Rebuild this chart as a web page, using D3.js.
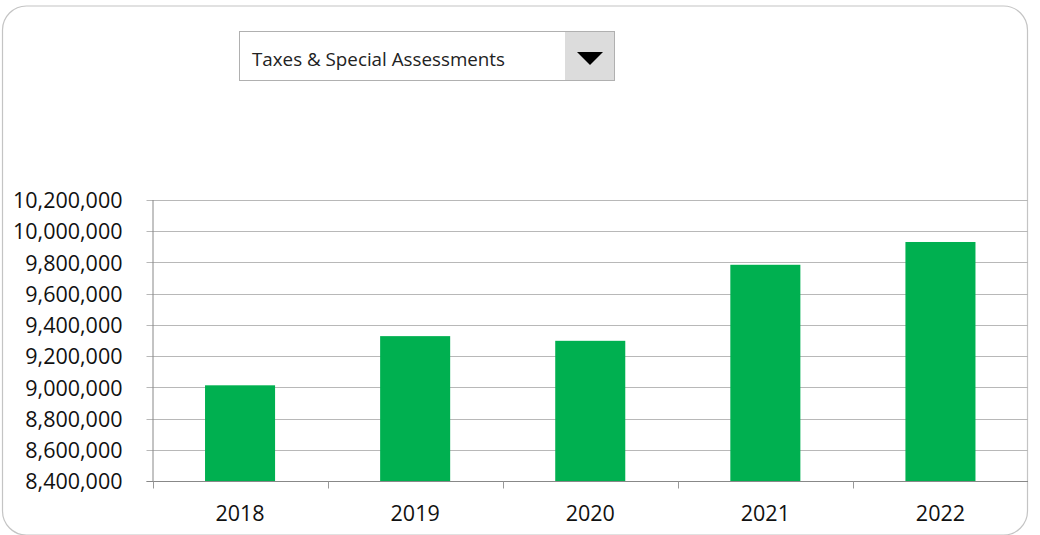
<!DOCTYPE html>
<html>
<head>
<meta charset="utf-8">
<script src="https://cdn.jsdelivr.net/npm/d3@7"></script>
<style>
html,body{margin:0;padding:0;background:#fff;}
svg{display:block;}
</style>
</head>
<body>
<svg id="chart" width="1040" height="535"></svg>
<script>
const years = ["2018","2019","2020","2021","2022"];
const values = [9013000, 9328000, 9298000, 9785000, 9931000];
const yTicks = [8400000, 8600000, 8800000, 9000000, 9200000, 9400000, 9600000, 9800000, 10000000, 10200000];
const selectedCategory = "Taxes & Special Assessments";

const svg = d3.select("#chart");
const plot = {left: 152.5, right: 1028, top: 200, bottom: 481};

// outer rounded frame
svg.append("rect")
  .attr("x", 2.5).attr("y", 6).attr("width", 1025).attr("height", 529)
  .attr("rx", 24).attr("ry", 24)
  .attr("fill", "#fff").attr("stroke", "#c4c4c4").attr("stroke-width", 1.2);

const x = d3.scaleBand().domain(years).range([plot.left, plot.right]).paddingInner(0.6).paddingOuter(0.3);
const y = d3.scaleLinear().domain([8400000, 10200000]).range([plot.bottom, plot.top]);

const fmt = d3.format(",");
const font = "'Open Sans', 'Noto Sans', sans-serif";

// gridlines
svg.append("g")
  .selectAll("line").data(yTicks).join("line")
  .attr("x1", plot.left - 6).attr("x2", plot.right)
  .attr("y1", d => Math.round(y(d)) + 0.5).attr("y2", d => Math.round(y(d)) + 0.5)
  .attr("stroke", "#b8b8b8").attr("stroke-width", 1);

// bars
svg.append("g")
  .selectAll("rect").data(years).join("rect")
  .attr("x", d => x(d))
  .attr("width", x.bandwidth())
  .attr("y", (d, i) => y(values[i]))
  .attr("height", (d, i) => y(8400000) - y(values[i]))
  .attr("fill", "#00b050");

// y axis
const yAxis = d3.axisLeft(y).tickValues(yTicks).tickFormat(fmt).tickSize(0).tickPadding(30);
const gy = svg.append("g").attr("transform", `translate(${plot.left},0)`).call(yAxis);
gy.select(".domain").attr("stroke", "#888").attr("d", `M0.5,${plot.top}V${plot.bottom}`);
gy.selectAll("text").attr("font-family", font).attr("font-size", 21.5).attr("fill", "#111").attr("dy", "0.36em");

// x axis with boundary ticks
const gx = svg.append("g").attr("transform", `translate(0,${plot.bottom + 0.5})`);
gx.append("line").attr("x1", plot.left - 6).attr("x2", plot.right).attr("stroke", "#888");
const bounds = years.map((d, i) => plot.left + i * (plot.right - plot.left) / years.length);
gx.selectAll("line.tk").data(bounds).join("line").attr("class", "tk")
  .attr("x1", d => Math.round(d) + 0.5).attr("x2", d => Math.round(d) + 0.5)
  .attr("y1", 0).attr("y2", 7).attr("stroke", "#999");
const xAxis = d3.axisBottom(x).tickSize(0).tickPadding(25);
const gxl = svg.append("g").attr("transform", `translate(0,${plot.bottom})`).call(xAxis);
gxl.select(".domain").remove();
gxl.selectAll("text").attr("font-family", font).attr("font-size", 21.5).attr("fill", "#111");

// dropdown
const dd = svg.append("g");
dd.append("rect").attr("x", 239.5).attr("y", 31.5).attr("width", 375).attr("height", 49)
  .attr("fill", "#fff").attr("stroke", "#b0b0b0");
dd.append("rect").attr("x", 565).attr("y", 32).attr("width", 49).attr("height", 48)
  .attr("fill", "#dcdcdc");
dd.append("path").attr("d", "M577,52 L603,52 L590,65 Z").attr("fill", "#000");
dd.append("text").attr("x", 252).attr("y", 66)
  .attr("font-family", font).attr("font-size", 18.8).attr("fill", "#222")
  .text(selectedCategory);
</script>
</body>
</html>
